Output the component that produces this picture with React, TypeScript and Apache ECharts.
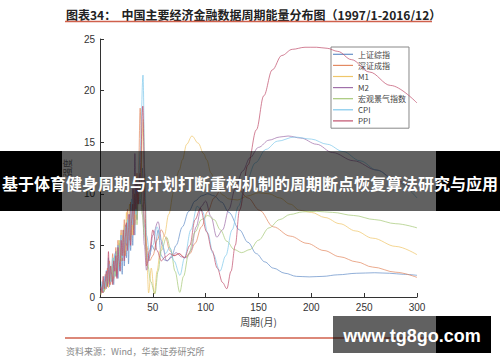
import React, { useEffect, useRef } from "react";
import * as echarts from "echarts";

const seriesNames = ["上证综指", "深证成指", "M1", "M2", "宏观景气指数", "CPI", "PPI"];
const seriesColors = ["#6690c8", "#e38a62", "#efc66a", "#a070aa", "#a6c878", "#80c8ec", "#c0506c"];

const xTicks = [0, 50, 100, 150, 200, 250, 300];
const yTicks = [0, 5, 10, 15, 20, 25];

const leftPeriods = [1, 2, 3, 4, 5, 6, 7, 8, 9, 10, 11, 12, 13, 14, 15, 16, 17, 18, 19, 20, 21, 22, 23, 24, 25, 26, 27, 28, 29, 30, 31, 32, 33, 34, 35, 36];

// 上证综指
const shLeft = [0.3, 1.2, 0.5, 1.8, 0.8, 2.0, 1.1, 3.8, 1.0, 2.5, 1.5, 3.2, 1.2, 4.0, 2.0, 3.5, 1.8, 5.2, 2.5, 4.5, 2.2, 6.0, 3.0, 5.5, 3.8, 7.2, 3.2, 6.5, 4.5, 8.0, 5.0, 9.5, 6.0, 11.0, 7.5, 10.5];
const shPeriods = [38, 40, 42, 44, 46, 49, 52, 55, 58, 61, 64, 68, 72, 78, 84, 90, 96, 102, 108, 115, 122, 132, 140, 148, 156, 164, 175, 186, 198, 211, 225, 243, 260, 274, 287, 300];
const shValues = [9.0, 12.5, 7.0, 4.5, 3.5, 5.0, 4.5, 6.5, 4.0, 3.6, 3.5, 4.0, 5.0, 6.8, 8.3, 9.3, 9.8, 10.0, 9.8, 9.2, 8.2, 6.5, 5.3, 4.2, 3.4, 2.8, 2.3, 2.0, 1.95, 2.0, 2.15, 2.3, 2.35, 2.3, 2.2, 2.1];

// 深证成指
const szLeft = [0.5, 0.9, 1.6, 0.6, 2.2, 1.0, 2.8, 1.3, 3.5, 1.2, 2.6, 4.2, 1.8, 3.0, 4.8, 2.2, 5.5, 3.0, 4.2, 6.5, 3.5, 5.0, 7.5, 4.0, 6.2, 8.5, 5.0, 7.0, 9.2, 6.0, 8.0, 10.5, 7.0, 9.0, 12.0, 9.0];
const szPeriods = [38, 40, 42, 44, 47, 50, 54, 58, 62, 66, 70, 75, 80, 85, 90, 96, 102, 108, 115, 122, 130, 140, 151, 164, 180, 196, 212, 227, 243, 258, 280, 300];
const szValues = [18.3, 11, 7.5, 5.0, 3.5, 4.0, 5.5, 6.5, 5.8, 4.5, 4.0, 4.2, 3.8, 4.2, 5.2, 6.8, 8.3, 9.6, 10.5, 10.8, 10.5, 9.6, 8.4, 6.8, 5.9, 5.2, 4.5, 3.9, 3.4, 2.9, 2.4, 1.9];

// M1
const m1Left = [0.2, 0.8, 0.4, 1.5, 0.7, 1.2, 2.0, 0.9, 2.4, 1.6, 3.0, 1.4, 3.6, 2.2, 4.2, 2.5, 3.8, 5.5, 3.0, 6.2, 4.0, 5.2, 7.0, 4.5, 8.2, 5.5, 7.5, 9.0, 6.5, 8.5, 6.0, 10.0, 7.5, 9.5, 8.0, 11.0];
const m1Periods = [38, 41, 43, 44.5, 46, 48.5, 51.5, 54, 57, 61, 65, 70, 75, 78, 82, 87, 93, 98, 101, 105, 110, 116, 122, 130, 140, 150, 160, 170, 180, 189, 200, 213, 227, 242, 258, 280, 300];
const m1Values = [10, 17.2, 8.5, 3.0, 0.4, 2.8, 0.3, 2.5, 4.5, 6.0, 8.0, 10.3, 12.3, 13.3, 14.8, 15.6, 14.9, 13.9, 13.3, 12.0, 10.8, 9.9, 9.5, 9.4, 9.8, 10.1, 10.0, 9.6, 9.0, 8.4, 8.2, 7.7, 7.1, 6.4, 5.7, 4.9, 4.1];

// M2
const m2Left = [0.6, 1.0, 0.4, 1.3, 2.0, 0.8, 1.7, 2.6, 1.2, 3.0, 2.0, 1.5, 3.5, 2.4, 4.4, 2.0, 5.0, 3.2, 4.0, 6.0, 3.5, 5.2, 4.5, 7.0, 5.0, 6.5, 8.0, 5.5, 9.0, 7.0, 10.5, 8.0, 13.9, 9.0, 7.5, 10.0];
const m2Periods = [38, 40, 42, 44, 47, 50, 55, 59, 63, 67, 72, 77, 82, 86, 91, 96, 100, 105, 110.5, 116, 122, 128, 135, 142, 150, 160, 170, 178, 190, 205, 220, 240, 262, 280, 300];
const m2Values = [12, 9, 5, 2.6, 4.0, 6.0, 7.3, 5.0, 3.5, 3.8, 4.3, 3.9, 3.8, 4.5, 6.8, 8.8, 9.3, 7.8, 5.8, 6.5, 8.5, 10.5, 12.2, 13.5, 14.5, 15.2, 15.5, 15.6, 15.4, 14.8, 14.0, 13.2, 12.3, 11.3, 10.2];

// 宏观景气指数
const hgLeft = [0.4, 0.7, 1.2, 0.5, 1.6, 1.0, 2.2, 1.4, 2.0, 3.0, 1.6, 2.8, 3.8, 2.0, 3.2, 4.5, 2.8, 4.0, 5.5, 3.5, 4.8, 6.5, 4.0, 5.5, 7.0, 4.8, 6.0, 8.0, 5.5, 7.5, 9.0, 6.5, 8.0, 10.0, 7.0, 9.0];
const hgPeriods = [38, 40, 42, 45, 48, 52, 55, 58, 63, 67, 71, 75.5, 79, 84, 90, 96, 102, 108, 114, 120, 127, 134, 142, 150, 160, 170, 180, 192, 205, 220, 240, 260, 280, 300];
const hgValues = [11, 8, 6, 3.2, 1.5, 0.3, 2.5, 4.5, 5.8, 4.6, 2.5, 0.45, 2.0, 4.2, 6.3, 7.5, 7.9, 7.5, 6.5, 5.4, 4.6, 4.3, 4.6, 5.5, 6.7, 7.5, 8.0, 8.25, 8.3, 8.2, 7.9, 7.5, 7.1, 6.7];

// CPI
const cpiLeft = [0.8, 1.5, 0.6, 2.0, 1.0, 2.6, 1.4, 1.9, 3.2, 1.5, 2.5, 3.8, 2.0, 4.2, 2.8, 3.5, 5.0, 2.6, 4.6, 6.0, 3.8, 5.5, 4.5, 6.8, 5.2, 7.5, 4.8, 8.0, 6.5, 9.5, 7.0, 8.5, 10.0, 8.0, 11.5, 10.0];
const cpiPeriods = [38, 40.7, 42.5, 44, 47, 50, 54, 58, 62, 66, 70, 75.7, 80, 86, 92, 97, 102, 107, 113.5, 119, 125, 131, 138, 147, 157, 168, 184, 200, 215, 230, 246, 262, 280, 300];
const cpiValues = [14, 21.5, 12, 6.0, 4.2, 5.0, 6.8, 5.5, 4.2, 4.8, 3.5, 2.1, 3.8, 6.5, 8.8, 8.3, 6.2, 4.2, 2.5, 4.0, 6.5, 8.8, 11.0, 13.0, 14.3, 15.1, 15.5, 15.3, 14.8, 14.1, 13.2, 12.3, 11.2, 9.6];

// PPI
const ppiLeft = [1.0, 0.4, 2.0, 0.8, 1.5, 2.5, 1.0, 4.4, 1.5, 3.0, 2.2, 1.2, 3.5, 2.5, 4.0, 1.8, 4.8, 3.5, 2.5, 5.5, 4.0, 6.5, 3.5, 5.8, 7.2, 4.5, 6.5, 8.0, 5.0, 7.5, 9.0, 6.0, 10.0, 8.5, 11.0, 9.0];
const ppiPeriods = [38, 40.5, 42.5, 44, 47, 50, 54, 58, 62, 66, 70, 75, 80, 85, 90, 95, 101, 106, 111, 116, 120, 124, 128, 132, 140, 148, 155, 163, 172, 182, 194, 205, 215, 225, 238, 255, 275, 300];
const ppiValues = [12, 18.5, 9, 3.0, 4.5, 6.5, 4.5, 3.5, 3.9, 4.2, 4.0, 4.2, 3.8, 5.0, 7.5, 8.6, 6.3, 4.5, 2.8, 1.4, 0.8, 2.5, 5.0, 8.4, 12.8, 16.2, 19.5, 22.0, 23.4, 24.0, 24.2, 24.2, 24.1, 23.8, 23.0, 21.8, 20.5, 18.8];

const leftSets = [shLeft, szLeft, m1Left, m2Left, hgLeft, cpiLeft, ppiLeft];
const tailPeriodSets = [shPeriods, szPeriods, m1Periods, m2Periods, hgPeriods, cpiPeriods, ppiPeriods];
const tailValueSets = [shValues, szValues, m1Values, m2Values, hgValues, cpiValues, ppiValues];

const titleText = "图表34：  中国主要经济金融数据周期能量分布图（1997/1-2016/12）";
const sourceText = "资料来源：Wind，华泰证券研究所";
const bannerText = "基于体育健身周期与计划打断重构机制的周期断点恢复算法研究与应用";
const watermarkText = "www.tg8go.com";

const sans = "'Liberation Sans', 'Noto Sans CJK SC', sans-serif";
const cjk = "'Noto Sans CJK SC', 'Liberation Sans', sans-serif";

export default function App() {
  const ref = useRef<HTMLDivElement>(null);
  useEffect(() => {
    if (!ref.current) return;
    const chart = echarts.init(ref.current, null, { renderer: "svg" });
    const series = seriesNames.map((name, i) => {
      const periods = leftPeriods.concat(tailPeriodSets[i]);
      const values = leftSets[i].concat(tailValueSets[i]);
      return {
        name,
        type: "line",
        data: periods.map((p, k) => [p, values[k]]),
        symbol: "none",
        smooth: 0.35,
        smoothMonotone: "x",
        lineStyle: { width: 0.8, color: seriesColors[i], opacity: 0.9 },
        itemStyle: { color: seriesColors[i] },
        z: 2 + i,
      };
    });
    chart.setOption({
      animation: false,
      backgroundColor: "#ffffff",
      grid: { left: 100, top: 39, width: 317, height: 258, containLabel: false },
      legend: {
        data: seriesNames.map((n) => ({ name: n, icon: "rect" })),
        orient: "vertical",
        left: 331,
        top: 47,
        padding: [2, 3, 2, 2],
        itemGap: 0.5,
        itemWidth: 20,
        itemHeight: 1.2,
        backgroundColor: "#ffffff",
        borderColor: "#888888",
        borderWidth: 1,
        borderRadius: 0,
        textStyle: { fontSize: 8, color: "#444", fontFamily: cjk, lineHeight: 10.6 },
      },
      xAxis: {
        type: "value",
        min: xTicks[0],
        max: xTicks[xTicks.length - 1],
        interval: 50,
        name: "周期(月)",
        nameLocation: "middle",
        nameGap: 18,
        nameTextStyle: { color: "#444", fontSize: 10, fontFamily: cjk },
        axisLine: { lineStyle: { color: "#333", width: 1 } },
        axisTick: { inside: true, length: 4, lineStyle: { color: "#333" } },
        axisLabel: { color: "#333", fontSize: 10, margin: 5, fontFamily: sans },
        splitLine: { show: false },
      },
      yAxis: {
        type: "value",
        min: yTicks[0],
        max: yTicks[yTicks.length - 1],
        interval: 5,
        name: "强度",
        nameLocation: "middle",
        nameRotate: 90,
        nameGap: 28,
        nameTextStyle: { color: "#666", fontSize: 9, fontFamily: cjk },
        axisLine: { show: true, lineStyle: { color: "#333", width: 1 } },
        axisTick: { show: true, inside: true, length: 4, lineStyle: { color: "#333" } },
        axisLabel: { color: "#333", fontSize: 10, margin: 5, fontFamily: sans },
        splitLine: { show: false },
      },
      series,
      graphic: [
        {
          type: "text",
          x: 66,
          y: 14,
          z: 100,
          style: { text: titleText, fill: "#222", font: `bold 12px ${cjk}`, verticalAlign: "middle" },
        },
        { type: "line", z: 100, shape: { x1: 65, y1: 21.5, x2: 432, y2: 21.5 }, style: { stroke: "#d0604c", lineWidth: 1.5 } },
        { type: "line", z: 100, shape: { x1: 65, y1: 338, x2: 432, y2: 338 }, style: { stroke: "#d0604c", lineWidth: 1.5 } },
        {
          type: "text",
          x: 66,
          y: 351,
          z: 100,
          style: { text: sourceText, fill: "#888", font: `9px ${cjk}`, verticalAlign: "middle" },
        },
        { type: "rect", z: 200, shape: { x: 0, y: 151, width: 62, height: 60 }, style: { fill: "#000" } },
        { type: "rect", z: 200, shape: { x: 62, y: 151, width: 374, height: 60 }, style: { fill: "rgba(0,0,0,0.62)" } },
        { type: "rect", z: 200, shape: { x: 436, y: 151, width: 64, height: 60 }, style: { fill: "#000" } },
        {
          type: "text",
          x: 250,
          y: 183,
          z: 210,
          style: { text: bannerText, fill: "#fff", font: `bold 16px ${cjk}`, align: "center", verticalAlign: "middle" },
        },
        { type: "rect", z: 200, shape: { x: 333, y: 316, width: 103, height: 37 }, style: { fill: "rgba(0,0,0,0.62)" } },
        { type: "rect", z: 200, shape: { x: 436, y: 316, width: 55, height: 37 }, style: { fill: "#000" } },
        {
          type: "text",
          x: 412,
          y: 336,
          z: 210,
          style: { text: watermarkText, fill: "#fff", font: `bold 18px ${sans}`, align: "center", verticalAlign: "middle" },
        },
      ],
    });
    return () => chart.dispose();
  }, []);
  return (
    <div
      ref={ref}
      style={{ position: "fixed", left: 0, top: 0, width: 500, height: 362, background: "#fff" }}
    />
  );
}
